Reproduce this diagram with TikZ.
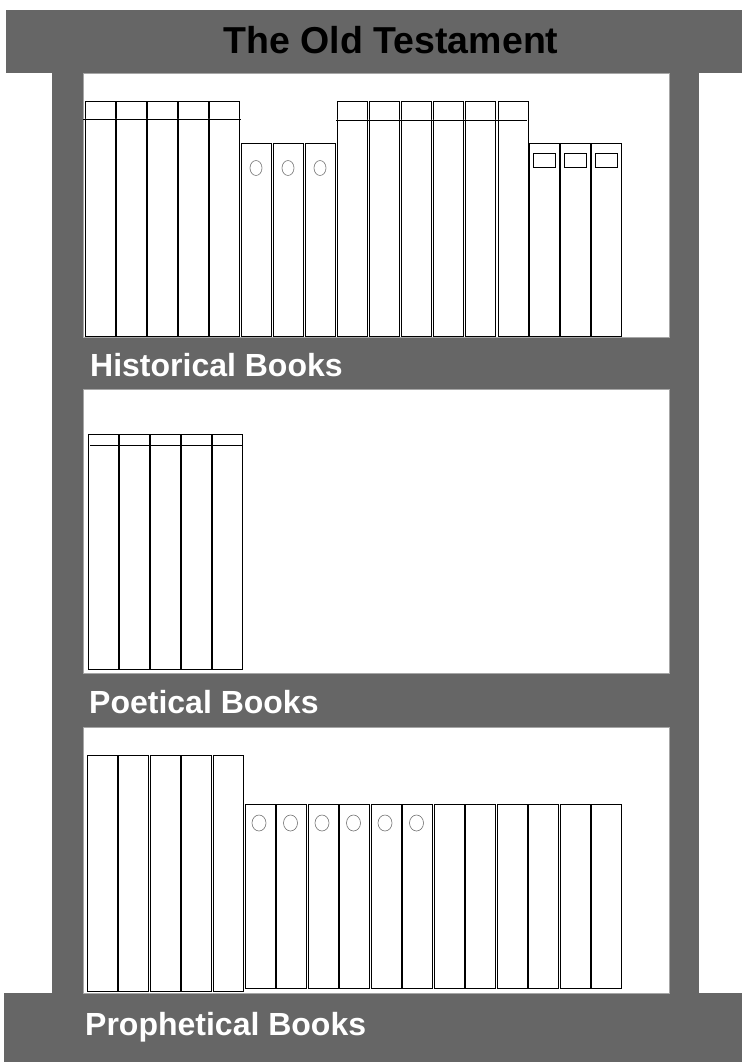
\documentclass[tikz,border=0pt]{standalone}
\usepackage{fontspec}
\setmainfont{Liberation Sans}
\definecolor{shelfgray}{HTML}{666666}

\begin{document}
\begin{tikzpicture}[
  x=1pt, y=-1pt,
  frame/.style={fill=shelfgray},
  inside/.style={fill=white, draw=gray!70, line width=0.6pt},
  book/.style={draw=black, fill=white, line width=0.7pt},
  spinemark/.style={draw=gray!90!black, line width=0.6pt},
  shelftext/.style={anchor=base west, inner sep=0pt, text=white, font=\fontsize{32}{34}\selectfont\bfseries},
]
\useasboundingbox (0,0) rectangle (742,1062);

% Frame
\fill[frame] (6,10) rectangle (742,73);
\fill[frame] (52,73) rectangle (699,993);
\fill[frame] (4,993) rectangle (742,1062);
\draw[inside] (83,73) rectangle (669,337);
\draw[inside] (83,389) rectangle (669,673);
\draw[inside] (83,727) rectangle (669,993);

% Titles
\node[anchor=base, inner sep=0pt, font=\fontsize{37.5}{40}\selectfont\bfseries] (title) at (391,54) {The Old Testament};
\node[shelftext] (historical) at (90,376) {Historical Books};
\node[shelftext] (poetical) at (89,713) {Poetical Books};
\node[shelftext] (prophetical) at (85,1035) {Prophetical Books};

% Historical books
\foreach \i in {0,...,4}
  \draw[book] ({85+31*\i},101) rectangle ++(30,235);
\draw[book] (83,119) -- (241,119);
\foreach \i in {0,1,2} {
  \draw[book] ({241+32*\i},143) rectangle ++(30,193);
  \draw[spinemark] ({256+32*\i},168) ellipse (6 and 7.5);
}
\foreach \i in {0,...,5}
  \draw[book] ({337+32.2*\i},101) rectangle ++(30,235);
\draw[book] (336,120) -- (527,120);
\foreach \i in {0,1,2} {
  \draw[book] ({529+31*\i},143) rectangle ++(30,193);
  \draw[book] ({533+31*\i},153) rectangle ++(22,14);
}

% Poetical books
\foreach \i in {0,...,4}
  \draw[book] ({88+31.2*\i},434) rectangle ++(30,235);
\draw[book] (90,445) -- (243,445);

% Prophetical books
\foreach \i in {0,...,4}
  \draw[book] ({87+31.5*\i},755) rectangle ++(30,236);
\foreach \i in {0,...,11}
  \draw[book] ({245+31.5*\i},804) rectangle ++(30,184);
\foreach \i in {0,...,5}
  \draw[spinemark] ({259+31.5*\i},823) ellipse (7 and 8);

\end{tikzpicture}
\end{document}
